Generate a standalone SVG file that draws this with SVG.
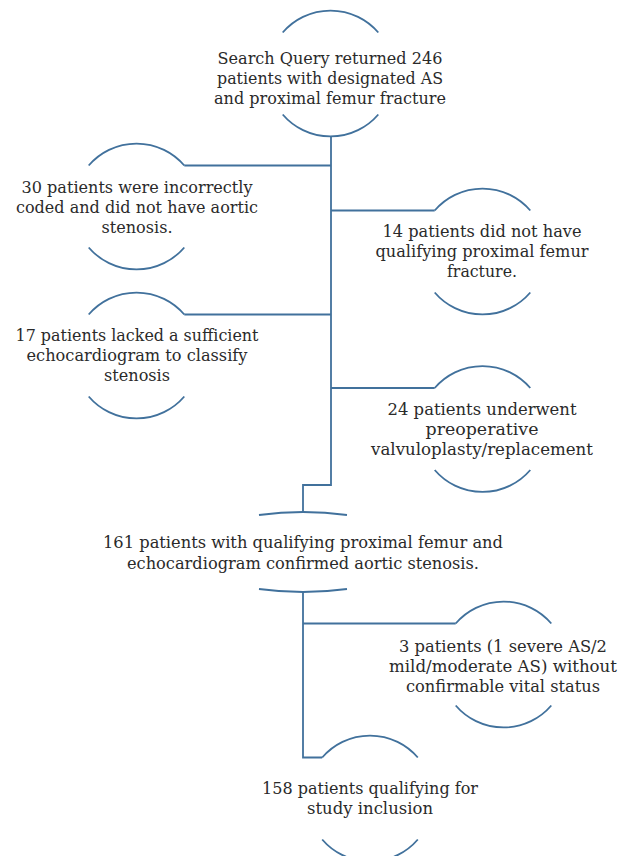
<svg xmlns="http://www.w3.org/2000/svg" width="628" height="856" viewBox="0 0 628 856">
<style>
.arc{fill:none;stroke:#41719C;stroke-width:1.8}
.con{fill:none;stroke:#41719C;stroke-width:1.8}
text{font-family:"DejaVu Serif","Liberation Serif",serif;font-size:16.5px;fill:#2a2a2a;text-anchor:middle}
</style>
<rect width="628" height="856" fill="#ffffff"/>
<g id="connectors">
<path class="con" d="M331,136.5 V485 H303 V512"/>
<path class="con" d="M184.3,165.5 H331"/>
<path class="con" d="M331,210.5 H434.7"/>
<path class="con" d="M184.3,314.5 H331"/>
<path class="con" d="M331,388 H434.7"/>
<path class="con" d="M303,592 V757.5 H322.2"/>
<path class="con" d="M303,623.5 H455.7"/>
</g>
<g id="node1">
<path class="arc" d="M282.7,32.5 A63,63 0 0 1 378.3,32.5"/>
<path class="arc" d="M282.7,114.5 A63,63 0 0 0 378.3,114.5"/>
<text x="330" y="63.5" textLength="225" lengthAdjust="spacingAndGlyphs">Search Query returned 246</text>
<text x="330" y="83.5" textLength="226" lengthAdjust="spacingAndGlyphs">patients with designated AS</text>
<text x="330" y="103.5" textLength="232" lengthAdjust="spacingAndGlyphs">and proximal femur fracture</text>
</g>
<g id="node2">
<path class="arc" d="M88.7,165.5 A63,63 0 0 1 184.3,165.5"/>
<path class="arc" d="M88.7,247.5 A63,63 0 0 0 184.3,247.5"/>
<text x="137" y="193" textLength="231" lengthAdjust="spacingAndGlyphs">30 patients were incorrectly</text>
<text x="137" y="213" textLength="242" lengthAdjust="spacingAndGlyphs">coded and did not have aortic</text>
<text x="137" y="233" textLength="71" lengthAdjust="spacingAndGlyphs">stenosis.</text>
</g>
<g id="node3">
<path class="arc" d="M434.7,210.5 A63,63 0 0 1 530.3,210.5"/>
<path class="arc" d="M434.7,292.5 A63,63 0 0 0 530.3,292.5"/>
<text x="482" y="237" textLength="199" lengthAdjust="spacingAndGlyphs">14 patients did not have</text>
<text x="482" y="257" textLength="213" lengthAdjust="spacingAndGlyphs">qualifying proximal femur</text>
<text x="482" y="277" textLength="70" lengthAdjust="spacingAndGlyphs">fracture.</text>
</g>
<g id="node4">
<path class="arc" d="M88.7,314.5 A63,63 0 0 1 184.3,314.5"/>
<path class="arc" d="M88.7,396.5 A63,63 0 0 0 184.3,396.5"/>
<text x="137" y="341" textLength="243" lengthAdjust="spacingAndGlyphs">17 patients lacked a sufficient</text>
<text x="137" y="361" textLength="221" lengthAdjust="spacingAndGlyphs">echocardiogram to classify</text>
<text x="137" y="381" textLength="66" lengthAdjust="spacingAndGlyphs">stenosis</text>
</g>
<g id="node5">
<path class="arc" d="M434.7,388 A63,63 0 0 1 530.3,388"/>
<path class="arc" d="M434.7,470 A63,63 0 0 0 530.3,470"/>
<text x="482" y="415" textLength="189" lengthAdjust="spacingAndGlyphs">24 patients underwent</text>
<text x="482" y="435" textLength="113" lengthAdjust="spacingAndGlyphs">preoperative</text>
<text x="482" y="455" textLength="222" lengthAdjust="spacingAndGlyphs">valvuloplasty/replacement</text>
</g>
<g id="node6">
<path class="arc" d="M259,515 Q303,509 347,515"/>
<path class="arc" d="M259,589 Q303,595 347,589"/>
<text x="303" y="548" textLength="400" lengthAdjust="spacingAndGlyphs">161 patients with qualifying proximal femur and</text>
<text x="303" y="569" textLength="352" lengthAdjust="spacingAndGlyphs">echocardiogram confirmed aortic stenosis.</text>
</g>
<g id="node7">
<path class="arc" d="M455.7,623.5 A63,63 0 0 1 551.3,623.5"/>
<path class="arc" d="M455.7,705.5 A63,63 0 0 0 551.3,705.5"/>
<text x="503" y="652" textLength="208" lengthAdjust="spacingAndGlyphs">3 patients (1 severe AS/2</text>
<text x="503" y="672" textLength="228" lengthAdjust="spacingAndGlyphs">mild/moderate AS) without</text>
<text x="503" y="692" textLength="194" lengthAdjust="spacingAndGlyphs">confirmable vital status</text>
</g>
<g id="node8">
<path class="arc" d="M322.2,757.5 A63,63 0 0 1 417.8,757.5"/>
<path class="arc" d="M322.2,839.5 A63,63 0 0 0 417.8,839.5"/>
<text x="370" y="794" textLength="216" lengthAdjust="spacingAndGlyphs">158 patients qualifying for</text>
<text x="370" y="814" textLength="126" lengthAdjust="spacingAndGlyphs">study inclusion</text>
</g>
</svg>
